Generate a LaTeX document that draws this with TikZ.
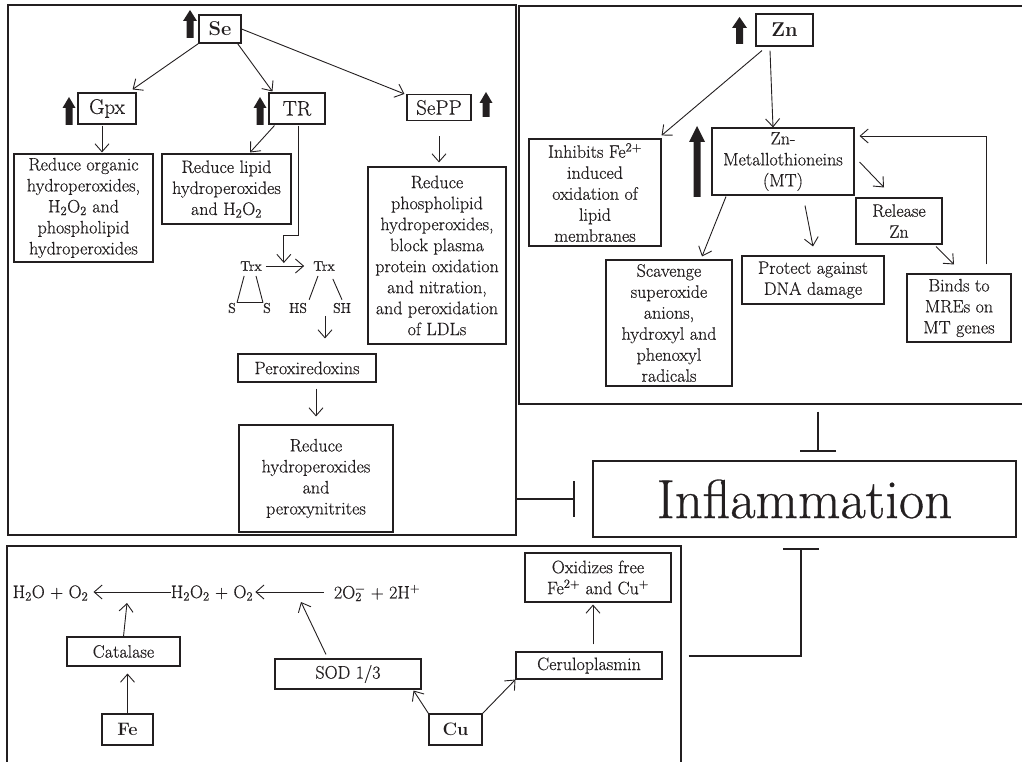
\documentclass[tikz,border=0pt]{standalone}
\usepackage{fontspec}
\setmainfont{Latin Modern Roman}[UprightFeatures={FakeBold=0.5}]
\usetikzlibrary{arrows.meta,calc}
\definecolor{ink}{HTML}{231F20}
% solid up-pointing block arrow: centre x, top y, bottom y, head width, shaft width, head height
\newcommand{\boldup}[6]{%
  \fill[ink] (#1,#2) -- (#1+#4/2,#2+#6) -- (#1+#5/2,#2+#6) -- (#1+#5/2,#3)
    -- (#1-#5/2,#3) -- (#1-#5/2,#2+#6) -- (#1-#4/2,#2+#6) -- cycle;}
% subscript and superscript stacked on one letter
\newcommand{\subsup}[2]{\rlap{\textsubscript{#1}}\textsuperscript{#2}}
\tikzset{
  box/.style={draw=ink, line width=1.1pt, inner sep=0pt, align=center, text=ink,
    font=\fontsize{18}{21}\selectfont},
  lab/.style={box, font=\fontsize{21}{24}\selectfont},
  metal/.style={box, font=\bfseries\fontsize{20}{24}\selectfont},
  plain/.style={inner sep=0pt, text=ink, font=\fontsize{18}{21}\selectfont},
  small/.style={inner sep=0pt, text=ink, font=\fontsize{14}{16}\selectfont},
  panel/.style={draw=ink, line width=1.4pt, inner sep=0pt},
  arr/.style={draw=ink, line width=0.9pt, -{Straight Barb[length=8pt,width=14pt]}},
  link/.style={draw=ink, line width=0.9pt},
  inhib/.style={draw=ink, line width=2pt, -{Bar[width=36pt]}},
}
\begin{document}
\begin{tikzpicture}[x=1pt,y=-1pt]
\useasboundingbox (0,0) rectangle (1022,762);
\clip (0,0) rectangle (1022,762);

% ---------- panels ----------
\node[panel, minimum width=508pt, minimum height=530pt] (sepanel) at (262,270) {};
\node[panel, minimum width=511pt, minimum height=398pt] (znpanel) at (774.5,205) {};
\node[panel, minimum width=674pt, minimum height=244pt] (botpanel) at (344,668) {};

% ---------- selenium ----------
\node[metal, minimum width=42pt, minimum height=28pt] (se) at (220,29) {Se};
\boldup{190}{10}{38}{14}{7}{11}
\node[lab, minimum width=58pt, minimum height=31pt] (gpx) at (107,108.5) {Gpx};
\boldup{69}{97}{125}{13}{7}{11}
\node[lab, minimum width=56pt, minimum height=31pt] (tr) at (297,108.5) {TR};
\boldup{260}{97}{125}{13}{7}{11}
\node[lab, minimum width=64pt, minimum height=26pt] (sepp) at (439,107.5) {SePP};
\boldup{486}{92}{117}{13}{7}{11}

\node[box, minimum width=139pt, minimum height=108pt] (red1) at (83.5,208)
  {Reduce organic\\hydroperoxides,\\H\textsubscript{2}O\textsubscript{2} and\\phospholipid\\hydroperoxides};
\node[box, minimum width=129pt, minimum height=70pt] (red2) at (226.5,189)
  {Reduce lipid\\hydroperoxides\\and H\textsubscript{2}O\textsubscript{2}};
\node[box, minimum width=138pt, minimum height=177pt] (red4) at (437,255.5)
  {Reduce\\phospholipid\\hydroperoxides,\\block plasma\\protein oxidation\\and nitration,\\and peroxidation\\of LDLs};

\draw[arr] (se.south west) -- ($(gpx.north east)+(-4,-3)$);
\draw[arr] ($(se.south east)+(-4,0)$) -- ($(tr.north west)+(4,-1)$);
\draw[arr] (se.east) -- ($(sepp.north west)+(-2,0)$);
\draw[arr] ($(gpx.south)+(-5,1)$) -- ($(gpx.south |- red1.north)+(-5,-1)$);
\draw[arr] ($(tr.south west)+(6,1)$) -- ($(red2.north)+(23.5,-1)$);
\draw[arr] ($(sepp.south)+(0,15)$) -- ($(sepp.south |- red4.north)+(0,-4)$);

% thioredoxin
\node[small] (trxa) at (251,266) {Trx};
\node[small] (trxb) at (324,266) {Trx};
\node[small] (sa) at (232,308) {S};
\node[small] (sb) at (267,308) {S};
\node[small] (hs) at (298,308) {HS};
\node[small] (sh) at (342,308) {SH};
\draw[arr] ($(trxa.east)+(4,0)$) -- ($(trxb.west)+(-9,0)$);
\coordinate (trxmid) at ($(trxa)!0.45!(trxb)$);
\draw[arr] ($(tr.south)+(1,1)$) |- ($(trxmid)+(0,-31)$) -- ($(trxmid)+(0,-3)$);
\draw[link] ($(trxa.south west)+(4,5)$) -- ($(sa.north east)+(1,0)$);
\draw[link] ($(trxa.south)+(5,5)$) -- (sb.north west);
\draw[link] ($(sa.north east)+(1,0)$) -- (sb.north west);
\draw[link] ($(trxb.south)+(-6,5)$) -- ($(hs.north east)+(2,-3)$);
\draw[link] ($(trxb.south east)+(-2,8)$) -- ($(sh.north)+(0,-3)$);

\node[box, minimum width=138pt, minimum height=28pt] (perox) at (307,368) {Peroxiredoxins};
\node[box, minimum width=154pt, minimum height=107pt] (red3) at (316,478.5)
  {Reduce\\hydroperoxides\\and\\peroxynitrites};
\draw[arr] ($(trxb.south)+(1,45)$) -- ($(trxb.south |- perox.north)+(1,-15)$);
\draw[arr] ($(perox.south -| red3.north)+(0,6)$) -- ($(red3.north)+(0,-8)$);

% ---------- zinc ----------
\node[metal, minimum width=57pt, minimum height=32pt] (zn) at (784.5,30) {Zn};
\boldup{739.5}{17}{44}{15}{7}{11}
\node[box, minimum width=132pt, minimum height=107pt] (inh) at (595,192.5)
  {Inhibits Fe\textsuperscript{2+}\\induced\\oxidation of\\lipid\\membranes};
\node[box, minimum width=142pt, minimum height=67pt] (mt) at (783,161.5)
  {Zn-\\Metallothioneins\\(MT)};
\boldup{697}{126}{197}{16}{7}{16}
\node[box, minimum width=126pt, minimum height=126pt] (scav) at (669,323)
  {Scavenge\\superoxide\\anions,\\hydroxyl and\\phenoxyl\\radicals};
\node[box, minimum width=142pt, minimum height=48pt] (prot) at (813,280)
  {Protect against\\DNA damage};
\node[box, minimum width=86pt, minimum height=46pt] (rel) at (899,221)
  {Release\\Zn};
\node[box, minimum width=104pt, minimum height=68pt] (bind) at (959,308)
  {Binds to\\MREs on\\MT genes};

\draw[arr] ($(zn.south)+(-22.5,4)$) -- ($(inh.north east)+(0,-3)$);
\draw[arr] ($(zn.south)+(-14.5,4)$) -- ($(mt.north)+(-10,0)$);
\draw[arr] ($(mt.south)+(-57,1)$) -- ($(scav.north)+(33,-3)$);
\draw[arr] ($(mt.south)+(22,10)$) -- ($(prot.north)+(0,-9)$);
\draw[arr] ($(mt.east)+(5,0.5)$) -- ($(rel.north)+(-15,-10)$);
\draw[arr] ($(rel.south)+(37,2)$) -- ($(bind.north)+(-5,-9)$);
\draw[arr] ($(bind.north)+(27,-9)$) |- ($(mt.east)+(5,-25.5)$);

% ---------- inflammation ----------
\node[box, minimum width=423pt, minimum height=76pt, font=\fontsize{55}{60}\selectfont]
  (infl) at (804.5,499) {Inflammation};
\draw[inhib, shorten >=17pt] (sepanel.east |- infl.west) -- (infl.west);
\draw[inhib] ($(znpanel.south -| infl.north)+(13.5,7)$) -- ($(infl.north)+(13.5,-8)$);

% ---------- iron and copper ----------
\node[plain] (h2o) at (50.5,593) {H\textsubscript{2}O + O\textsubscript{2}};
\node[plain] (h2o2) at (212,593) {H\textsubscript{2}O\textsubscript{2} + O\textsubscript{2}};
\node[plain] (o2m) at (377,593) {2O\subsup{2}{\textminus} + 2H\textsuperscript{+}};
\draw[arr] ($(h2o2.west)+(0,-1)$) -- ($(h2o.east)+(5,-1)$);
\draw[arr] ($(o2m.west)+(-10,-1)$) -- ($(h2o2.east)+(2,-1)$);
\coordinate (r1) at (127,603);
\coordinate (r2) at (301,602);

\node[box, minimum width=113pt, minimum height=29pt] (cat) at (123.5,651.5) {Catalase};
\node[metal, font=\bfseries\fontsize{18}{21}\selectfont, minimum width=51pt, minimum height=31pt] (fe) at (127.5,729.5) {Fe};
\node[box, minimum width=146pt, minimum height=30pt] (sod) at (348,674) {SOD 1/3};
\node[metal, font=\bfseries\fontsize{18}{21}\selectfont, minimum width=53pt, minimum height=31pt] (cu) at (455.5,729.5) {Cu};
\node[box, minimum width=146pt, minimum height=27pt] (cer) at (589,665.5) {Ceruloplasmin};
\node[box, minimum width=146pt, minimum height=49pt] (ox) at (598,577.5)
  {Oxidizes free\\Fe\textsuperscript{2+} and Cu\textsuperscript{+}};

\draw[arr] (cat.north) -- (r1);
\draw[arr] (fe.north) -- ($(fe.north |- cat.south)+(0,7)$);
\draw[arr] ($(sod.north)+(-22,-4)$) -- (r2);
\draw[arr] (cu.north west) -- ($(sod.south east)+(-8,1)$);
\draw[arr] (cu.north east) -- (cer.south west);
\draw[arr] ($(cer.north)+(4,-7)$) -- ($(cer.north |- ox.south)+(4,2)$);

\draw[inhib] ($(botpanel.east |- cer.center)+(7,-10)$) -| ($(infl.south)+(-3.5,10)$);
\end{tikzpicture}
\end{document}
